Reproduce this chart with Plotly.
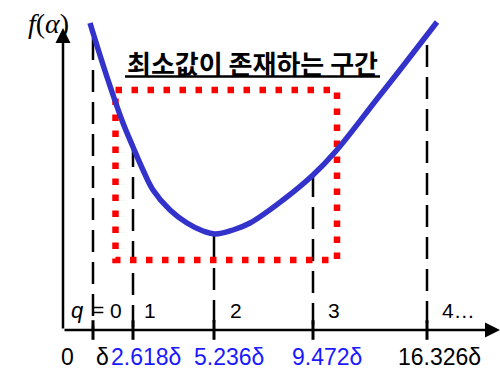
import plotly.graph_objects as go

# f(alpha) samples, in schematic units (x to the right of the origin, y above the alpha axis)
curve_x = [27, 44, 60, 70, 80, 90, 107, 124, 140, 152, 170, 187, 220, 250, 273, 314, 340, 374]
curve_y = [307, 253, 207, 183, 160, 140, 120, 107, 99, 96, 100, 107, 130, 155, 179, 231, 264, 308]

# golden-section grid points on the alpha axis and their drop-line tops
grid_x = [30, 70, 151, 250, 364]
grid_top = [292, 185, 94, 155, 285]

# interval index labels between grid points
q_symbol = "<i>q</i>"
q_labels = ["0", "1", "2", "3", "4…"]
q_label_x = [53, 87, 173, 271, 395]

# alpha values at the grid points
alpha_labels = ["0", "δ", "2.618δ", "5.236δ", "9.472δ", "16.326δ"]
alpha_label_x = [4, 39, 83, 166, 264, 376]
alpha_label_colors = ["#000000", "#000000", "#1a1aff", "#1a1aff", "#1a1aff", "#000000"]

# interval that brackets the minimum
bracket_x = [52.5, 274]
bracket_y = [70, 240]

title_text = "최소값이 존재하는 구간"
axis_label = "<i>f</i>(<i>α</i>)"

KR_FONT = "Noto Sans CJK KR"
NUM_FONT = "Liberation Sans"

fig = go.Figure()

# dashed drop lines from the curve down to the axis
for gx, gt in zip(grid_x, grid_top):
    fig.add_trace(go.Scatter(
        x=[gx, gx], y=[gt, 0], mode="lines",
        line=dict(color="black", width=2.5, dash="22px,10px"),
        hoverinfo="skip"))

# tick marks on the alpha axis
fig.add_trace(go.Scatter(
    x=grid_x, y=[0] * len(grid_x), mode="markers",
    marker=dict(symbol="line-ns", size=14, line=dict(color="black", width=3)),
    hoverinfo="skip"))

# red dotted bracket
bx0, bx1 = bracket_x
by0, by1 = bracket_y
fig.add_trace(go.Scatter(
    x=[bx0, bx1, bx1, bx0, bx0], y=[by1, by1, by0, by0, by1], mode="lines",
    line=dict(color="#ff0000", width=6.5, dash="6.5px,9.5px"),
    hoverinfo="skip"))

# the function curve
fig.add_trace(go.Scatter(
    x=curve_x, y=curve_y, mode="lines",
    line=dict(color="#3333cc", width=5.5, shape="spline", smoothing=1.1),
    hoverinfo="skip"))

annotations = []
# axes with arrowheads
annotations.append(dict(x=0, y=302, ax=0, ay=0, xref="x", yref="y", axref="x", ayref="y",
                        text="", showarrow=True, arrowhead=2, arrowsize=1.2,
                        arrowwidth=2.5, arrowcolor="black"))
annotations.append(dict(x=437, y=0, ax=0, ay=0, xref="x", yref="y", axref="x", ayref="y",
                        text="", showarrow=True, arrowhead=2, arrowsize=1.2,
                        arrowwidth=2.5, arrowcolor="black"))

annotations.append(dict(x=-15, y=307, xref="x", yref="y", text=axis_label, showarrow=False,
                        font=dict(family="Liberation Serif", size=28, color="black")))

annotations.append(dict(x=189.5, y=268, xref="x", yref="y", text=f"<b>{title_text}</b>",
                        showarrow=False,
                        font=dict(family=KR_FONT, size=26, color="black")))

# "q =" in front of the first interval index
annotations.append(dict(x=14, y=20, xref="x", yref="y", text=q_symbol, showarrow=False,
                        font=dict(family=NUM_FONT, size=22, color="black")))
annotations.append(dict(x=35, y=21, xref="x", yref="y", text="=", showarrow=False,
                        font=dict(family=NUM_FONT, size=21, color="black")))

for lab, lx in zip(q_labels, q_label_x):
    annotations.append(dict(x=lx, y=20, xref="x", yref="y", text=lab, showarrow=False,
                            font=dict(family=NUM_FONT, size=21, color="black")))

for lab, lx, c in zip(alpha_labels, alpha_label_x, alpha_label_colors):
    annotations.append(dict(x=lx, y=-27, xref="x", yref="y", text=lab, showarrow=False,
                            font=dict(family=NUM_FONT, size=23, color=c)))

fig.update_layout(
    width=500, height=371,
    margin=dict(l=0, r=0, t=0, b=0),
    paper_bgcolor="white", plot_bgcolor="white",
    showlegend=False,
    xaxis=dict(visible=False, range=[-63, 437], fixedrange=True),
    yaxis=dict(visible=False, range=[-41, 330], fixedrange=True),
    annotations=annotations,
    # underline of the heading
    shapes=[dict(type="line", xref="x", yref="y", x0=62, x1=317, y0=253.5, y1=253.5,
                 line=dict(color="black", width=2.5))],
)

fig.write_html("out.html")
